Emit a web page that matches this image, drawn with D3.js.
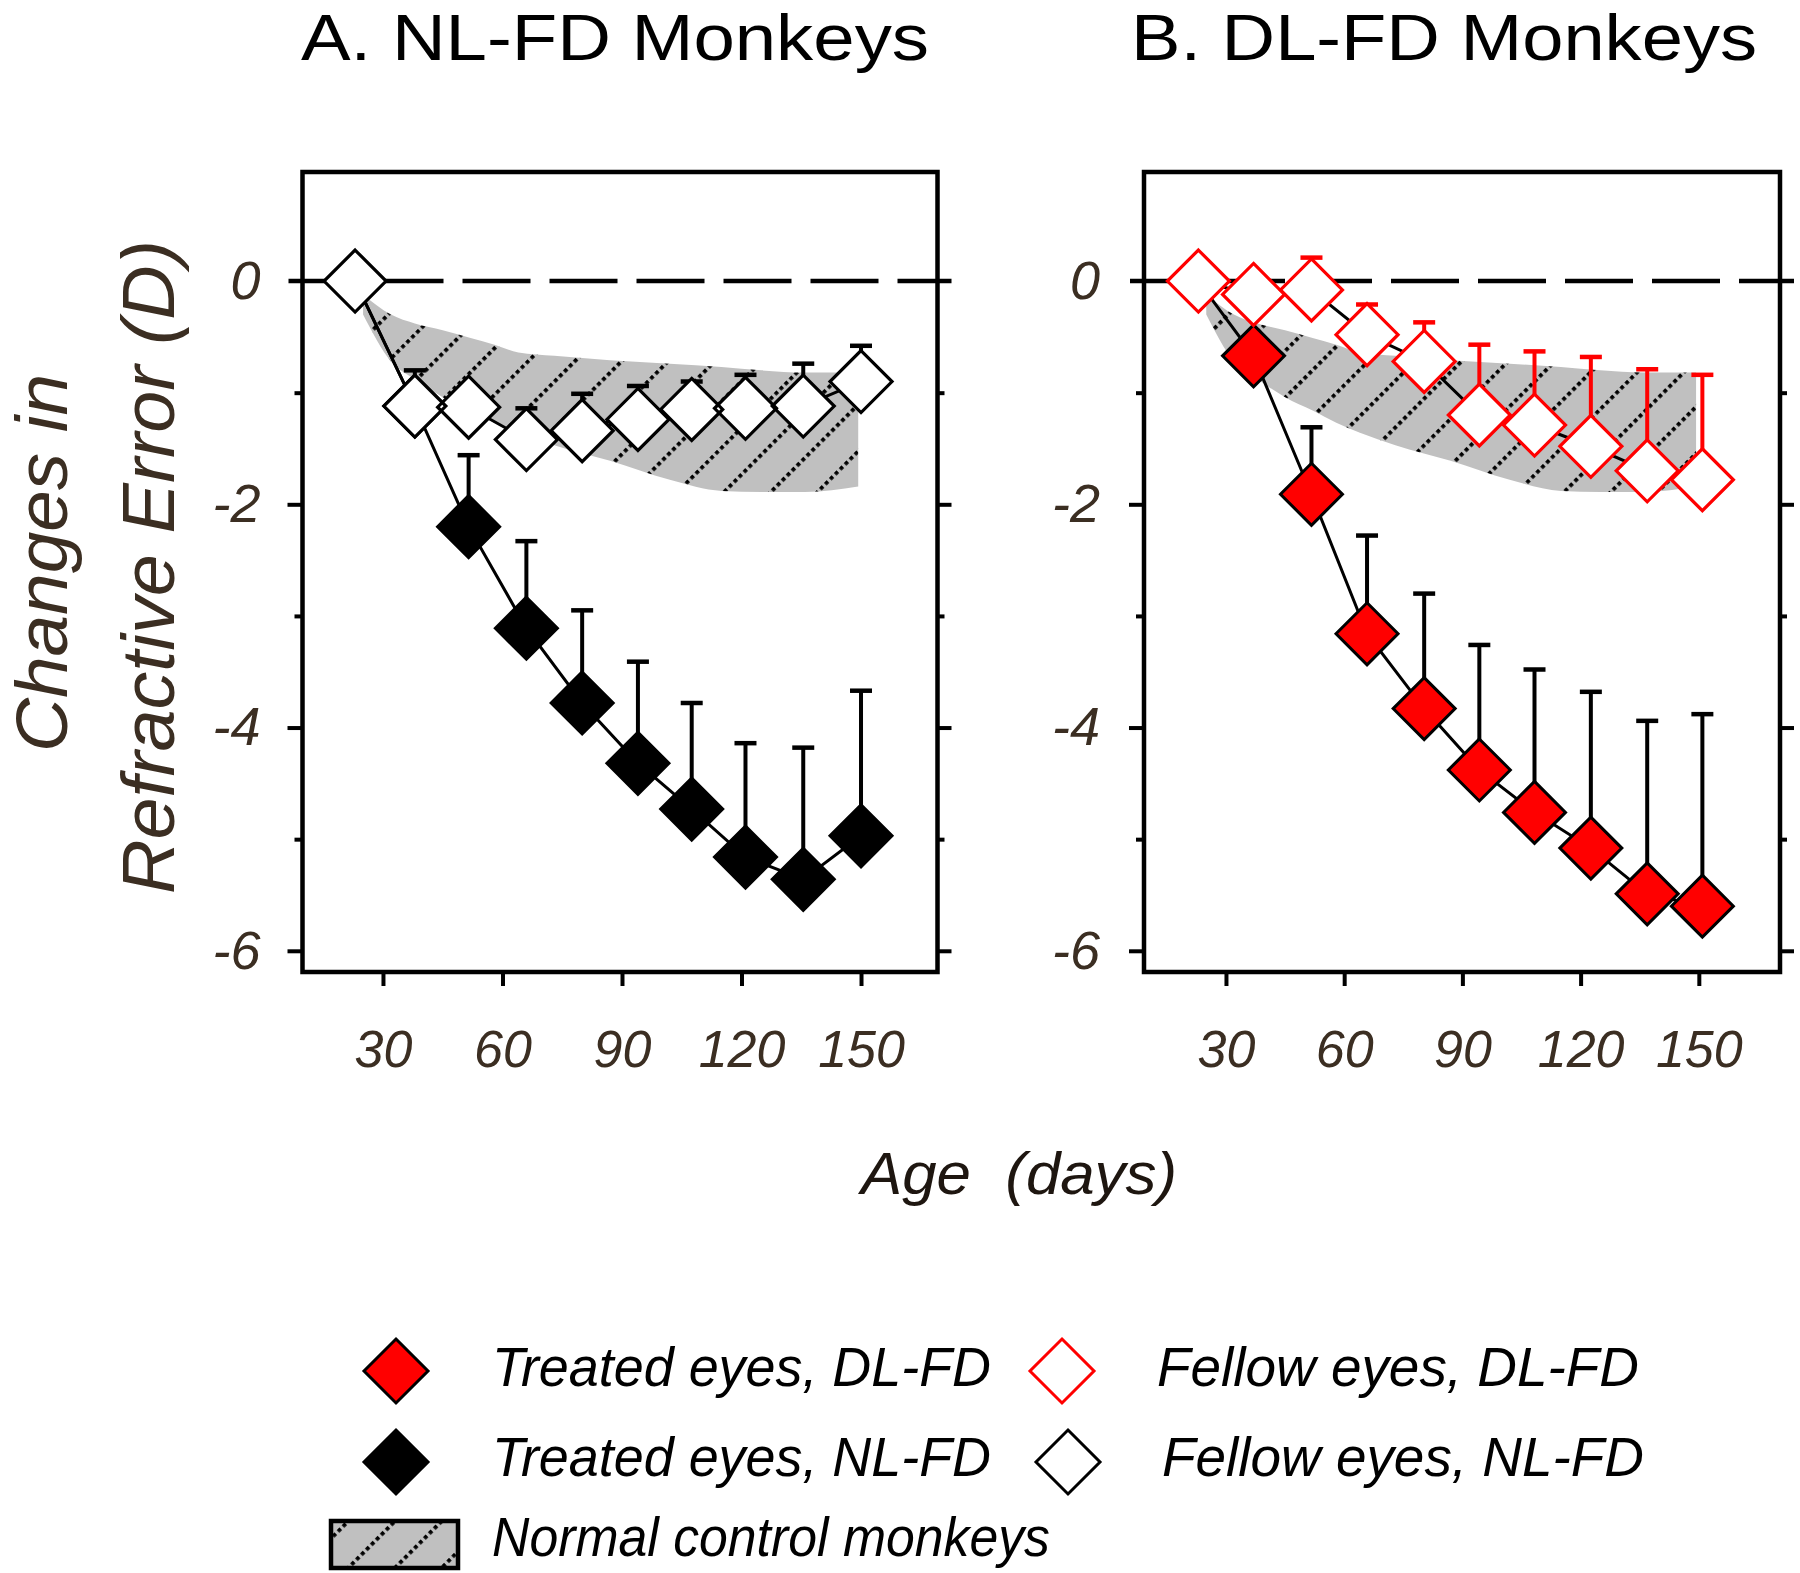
<!DOCTYPE html>
<html><head><meta charset="utf-8">
<script src="https://cdn.jsdelivr.net/npm/d3@7"></script>
<style>
body{margin:0;background:#fff}
svg{display:block}
text{font-family:"Liberation Sans",Arial,sans-serif}
</style>
</head><body>
<script>
// ---------- data ----------
const agesA = [23, 38, 51.5, 66, 80, 94, 107.5, 121, 135.5, 150];
const agesB = [23, 37, 51.7, 65.8, 80.3, 94.3, 108.3, 122.6, 136.9, 150.9];

const treatedNL    = [0, -1.12, -2.2, -3.11, -3.78, -4.32, -4.73, -5.16, -5.36, -4.97];
const treatedNLTop = [null, null, -1.56, -2.33, -2.95, -3.41, -3.78, -4.14, -4.18, -3.67];
const fellowNL     = [0, -1.12, -1.13, -1.42, -1.34, -1.24, -1.15, -1.14, -1.12, -0.90];
const fellowNLTop  = [null, -0.80, -0.95, -1.14, -1.01, -0.94, -0.90, -0.84, -0.74, -0.58];

const treatedDL    = [0, -0.67, -1.91, -3.16, -3.83, -4.38, -4.76, -5.08, -5.49, -5.60];
const treatedDLTop = [null, null, -1.31, -2.28, -2.80, -3.26, -3.48, -3.68, -3.94, -3.88];
const fellowDL     = [0, -0.12, -0.08, -0.48, -0.72, -1.20, -1.29, -1.48, -1.70, -1.78];
const fellowDLTop  = [null, null, 0.21, -0.21, -0.37, -0.57, -0.63, -0.68, -0.79, -0.84];

// normal control monkeys band
const normAges  = [25, 32, 38, 45, 52, 58, 64, 73, 87, 102, 115, 125, 136, 149.3];
const normUpper = [-0.12, -0.30, -0.38, -0.44, -0.51, -0.57, -0.64, -0.67, -0.71, -0.74, -0.77, -0.80, -0.82, -0.82];
const normLower = [-0.30, -0.72, -0.88, -1.04, -1.16, -1.27, -1.36, -1.47, -1.61, -1.78, -1.88, -1.89, -1.89, -1.84];

const xTicks = [30, 60, 90, 120, 150];
const yTicksMajor = [0, -2, -4, -6];
const yTicksMinor = [-1, -3, -5];
const titles = ["A. NL-FD Monkeys", "B. DL-FD Monkeys"];
const legendLabels = ["Treated eyes, DL-FD", "Fellow eyes, DL-FD", "Treated eyes, NL-FD", "Fellow eyes, NL-FD", "Normal control monkeys"];

// ---------- layout ----------
const W = 1800, H = 1573;
const plotTop = 172, plotBottom = 972;
const RED = "#ff0000";
const LABEL = "#3b2e22";

const svg = d3.select("body").append("svg").attr("width", W).attr("height", H);
svg.append("rect").attr("width", W).attr("height", H).attr("fill", "#fff");

const defs = svg.append("defs");
const pat = defs.append("pattern").attr("id", "hatch")
  .attr("patternUnits", "userSpaceOnUse").attr("width", 33).attr("height", 7)
  .attr("patternTransform", "rotate(45)");
pat.append("rect").attr("width", 33).attr("height", 7).attr("fill", "#c0c0c0");
pat.append("rect").attr("x", 0).attr("y", 0).attr("width", 3.8).attr("height", 3.8).attr("fill", "#000");

const y = d3.scaleLinear().domain([-6.19, 0.977]).range([plotBottom, plotTop]);

const diamond = r => `M0,${-r}L${r},0L0,${r}L${-r},0Z`;
const R = 31;
const fmt = d => String(d);

const panels = [
  {left: 302.5, right: 937.5, xdom: [9.8, 169.2], ages: agesA,
   treated: treatedNL, treatedTop: treatedNLTop, fellow: fellowNL, fellowTop: fellowNLTop,
   tFill: "#000", fStroke: "#000", fErr: "#000", title: titles[0], titleX: 301, titleLen: 628, labelPad: 27},
  {left: 1144, right: 1780, xdom: [9.2, 170.6], ages: agesB,
   treated: treatedDL, treatedTop: treatedDLTop, fellow: fellowDL, fellowTop: fellowDLTop,
   tFill: RED, fStroke: RED, fErr: RED, title: titles[1], titleX: 1131, titleLen: 626, labelPad: 29}
];

panels.forEach(p => {
  const x = d3.scaleLinear().domain(p.xdom).range([p.left, p.right]);
  const g = svg.append("g");

  g.append("line").attr("x1", p.left - 14).attr("x2", p.right + 14)
    .attr("y1", y(0)).attr("y2", y(0))
    .attr("stroke", "#000").attr("stroke-width", 4.5).attr("stroke-dasharray", "68,19");

  const band = normAges.map((a, i) => ({a, hi: normUpper[i], lo: normLower[i]}));
  g.append("path").datum(band)
    .attr("d", d3.area().x(d => x(d.a)).y0(d => y(d.lo)).y1(d => y(d.hi)).curve(d3.curveMonotoneX))
    .attr("fill", "url(#hatch)");

  const tr = p.ages.map((a, i) => ({a, v: p.treated[i], t: p.treatedTop[i]}));
  const fe = p.ages.map((a, i) => ({a, v: p.fellow[i], t: p.fellowTop[i]}));

  const te = g.append("g").selectAll("g").data(tr.filter(d => d.t !== null)).join("g");
  te.append("line").attr("x1", d => x(d.a)).attr("x2", d => x(d.a))
    .attr("y1", d => y(d.v)).attr("y2", d => y(d.t)).attr("stroke", "#000").attr("stroke-width", 4);
  te.append("line").attr("x1", d => x(d.a) - 11).attr("x2", d => x(d.a) + 11)
    .attr("y1", d => y(d.t)).attr("y2", d => y(d.t)).attr("stroke", "#000").attr("stroke-width", 4.5);

  g.append("path").datum(tr).attr("d", d3.line().x(d => x(d.a)).y(d => y(d.v)))
    .attr("fill", "none").attr("stroke", "#000").attr("stroke-width", 3);
  g.append("g").selectAll("path").data(tr.slice(1)).join("path")
    .attr("transform", d => `translate(${x(d.a)},${y(d.v)})`)
    .attr("d", diamond(R)).attr("fill", p.tFill).attr("stroke", "#000").attr("stroke-width", 3);

  const fb = g.append("g").selectAll("g").data(fe.filter(d => d.t !== null)).join("g");
  fb.append("line").attr("x1", d => x(d.a)).attr("x2", d => x(d.a))
    .attr("y1", d => y(d.v)).attr("y2", d => y(d.t)).attr("stroke", p.fErr).attr("stroke-width", 4);
  fb.append("line").attr("x1", d => x(d.a) - 11).attr("x2", d => x(d.a) + 11)
    .attr("y1", d => y(d.t)).attr("y2", d => y(d.t)).attr("stroke", p.fErr).attr("stroke-width", 4.5);

  g.append("path").datum(fe).attr("d", d3.line().x(d => x(d.a)).y(d => y(d.v)))
    .attr("fill", "none").attr("stroke", "#000").attr("stroke-width", 3);
  g.append("g").selectAll("path").data(fe).join("path")
    .attr("transform", d => `translate(${x(d.a)},${y(d.v)})`)
    .attr("d", diamond(R)).attr("fill", "#fff");
  g.append("g").selectAll("path").data(fe).join("path")
    .attr("transform", d => `translate(${x(d.a)},${y(d.v)})`)
    .attr("d", diamond(R)).attr("fill", "none").attr("stroke", p.fStroke).attr("stroke-width", 3.2);

  const styleAxis = sel => {
    sel.select(".domain").remove();
    sel.selectAll(".tick line").attr("stroke", "#000").attr("stroke-width", 4);
    sel.selectAll(".tick text").attr("fill", LABEL).attr("font-size", 54).attr("font-style", "italic")
      .attr("font-family", "\"Liberation Sans\",Arial,sans-serif");
  };
  svg.append("g").attr("transform", `translate(${p.left},0)`)
    .call(d3.axisLeft(y).tickValues(yTicksMajor.filter(v => v !== 0)).tickSize(15).tickPadding(p.labelPad).tickFormat(fmt))
    .call(styleAxis);
  svg.append("g").attr("transform", `translate(${p.left},0)`)
    .call(d3.axisLeft(y).tickValues([0]).tickSize(0).tickPadding(p.labelPad + 15).tickFormat(fmt))
    .call(styleAxis);
  svg.append("g").attr("transform", `translate(${p.left},0)`)
    .call(d3.axisLeft(y).tickValues(yTicksMinor).tickSize(8).tickFormat(""))
    .call(styleAxis);
  svg.append("g").attr("transform", `translate(${p.right},0)`)
    .call(d3.axisRight(y).tickValues(yTicksMajor.filter(v => v !== 0)).tickSize(14).tickFormat(""))
    .call(styleAxis);
  svg.append("g").attr("transform", `translate(${p.right},0)`)
    .call(d3.axisRight(y).tickValues(yTicksMinor).tickSize(7).tickFormat(""))
    .call(styleAxis);
  svg.append("g").attr("transform", `translate(0,${plotBottom})`)
    .call(d3.axisBottom(x).tickValues(xTicks).tickSize(14).tickPadding(44).tickFormat(fmt))
    .call(styleAxis)
    .selectAll(".tick text").attr("font-size", 52);

  svg.append("rect").attr("x", p.left).attr("y", plotTop)
    .attr("width", p.right - p.left).attr("height", plotBottom - plotTop)
    .attr("fill", "none").attr("stroke", "#000").attr("stroke-width", 4.5);

  svg.append("text").attr("x", p.titleX).attr("y", 60).attr("font-size", 64)
    .attr("textLength", p.titleLen).attr("lengthAdjust", "spacingAndGlyphs")
    .attr("fill", "#000").text(p.title);
});

svg.append("text").attr("transform", "translate(67,563) rotate(-90)")
  .attr("text-anchor", "middle").attr("font-size", 72).attr("font-style", "italic")
  .attr("fill", LABEL).attr("textLength", 378).attr("lengthAdjust", "spacingAndGlyphs")
  .text("Changes in");
svg.append("text").attr("transform", "translate(174,567) rotate(-90)")
  .attr("text-anchor", "middle").attr("font-size", 74).attr("font-style", "italic")
  .attr("fill", LABEL).attr("textLength", 654).attr("lengthAdjust", "spacingAndGlyphs")
  .text("Refractive Error (D)");

svg.append("text").attr("x", 861).attr("y", 1194).attr("font-size", 60).attr("font-style", "italic")
  .attr("fill", "#1e1610").attr("textLength", 316).attr("lengthAdjust", "spacingAndGlyphs")
  .style("white-space", "pre").text("Age  (days)");

const legendItems = [
  {label: legendLabels[0], sx: 396, sy: 1371, fill: RED, stroke: "#000", tx: 492, ty: 1386, tl: 499},
  {label: legendLabels[1], sx: 1062, sy: 1371, fill: "#fff", stroke: RED, tx: 1157, ty: 1386, tl: 482},
  {label: legendLabels[2], sx: 396, sy: 1462, fill: "#000", stroke: "#000", tx: 492, ty: 1476, tl: 499},
  {label: legendLabels[3], sx: 1068, sy: 1462, fill: "#fff", stroke: "#000", tx: 1162, ty: 1476, tl: 482}
];
const lg = svg.append("g");
legendItems.forEach(d => {
  lg.append("path").attr("transform", `translate(${d.sx},${d.sy})`).attr("d", diamond(32))
    .attr("fill", d.fill).attr("stroke", d.stroke).attr("stroke-width", 3);
  lg.append("text").attr("x", d.tx).attr("y", d.ty).attr("font-size", 56).attr("font-style", "italic")
    .attr("fill", "#000").attr("textLength", d.tl).attr("lengthAdjust", "spacingAndGlyphs").text(d.label);
});
lg.append("rect").attr("x", 331).attr("y", 1521).attr("width", 127).attr("height", 47)
  .attr("fill", "url(#hatch)").attr("stroke", "#000").attr("stroke-width", 4.5);
lg.append("text").attr("x", 492).attr("y", 1556).attr("font-size", 56).attr("font-style", "italic")
  .attr("fill", "#000").attr("textLength", 558).attr("lengthAdjust", "spacingAndGlyphs").text(legendLabels[4]);
</script>
</body></html>
